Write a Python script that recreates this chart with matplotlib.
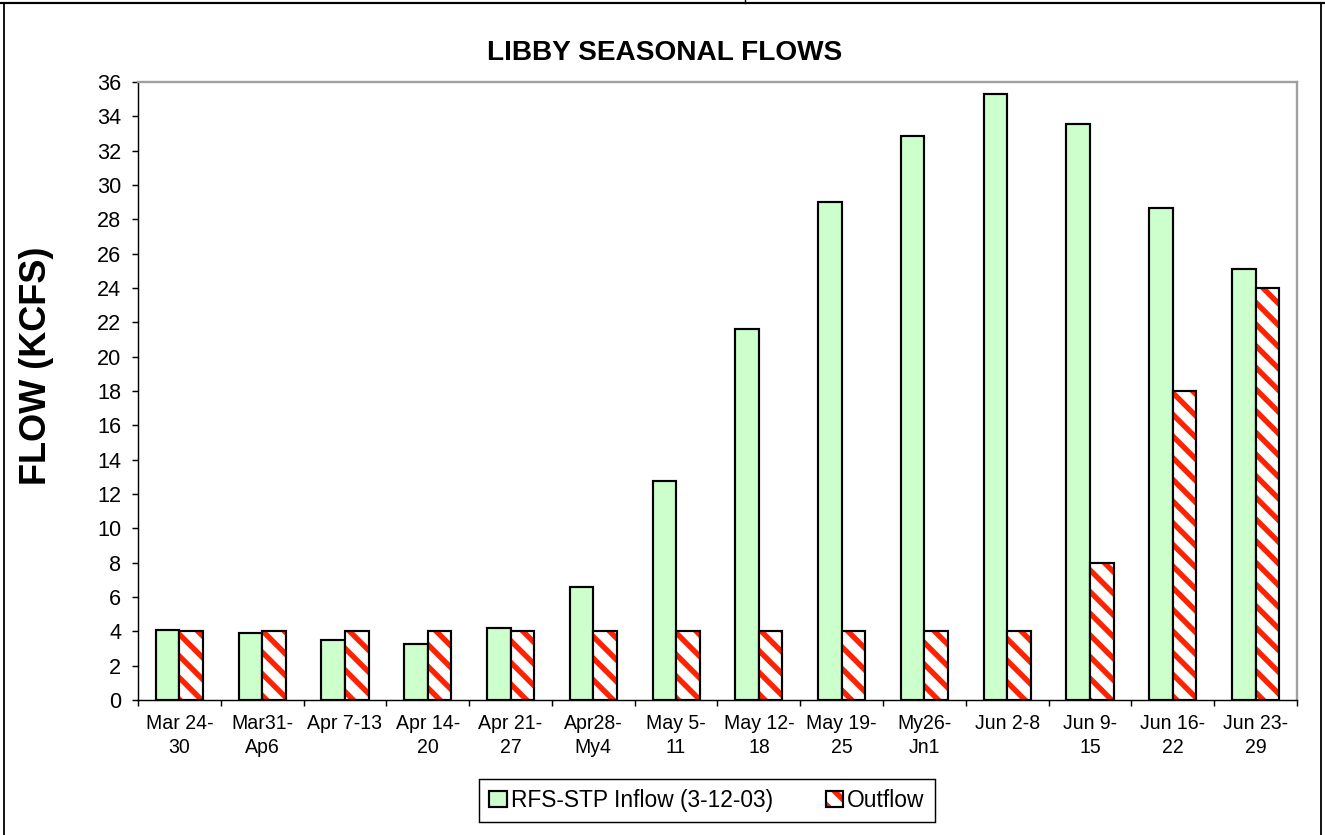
import numpy as np
import matplotlib
matplotlib.use("Agg")
import matplotlib.pyplot as plt
from matplotlib.lines import Line2D

plt.rcParams['font.family'] = ['Liberation Sans', 'DejaVu Sans']
plt.rcParams['hatch.linewidth'] = 3.0

# data
weeks = ["Mar 24-\n30", "Mar31-\nAp6", "Apr 7-13", "Apr 14-\n20", "Apr 21-\n27",
         "Apr28-\nMy4", "May 5-\n11", "May 12-\n18", "May 19-\n25", "My26-\nJn1",
         "Jun 2-8", "Jun 9-\n15", "Jun 16-\n22", "Jun 23-\n29"]
inflow = [4.1, 3.9, 3.5, 3.25, 4.2, 6.6, 12.75, 21.6, 29.0, 32.85, 35.3, 33.55, 28.65, 25.1]
outflow = [4, 4, 4, 4, 4, 4, 4, 4, 4, 4, 4, 8, 18, 24]

W, H, DPI = 1325, 835, 130
fig = plt.figure(figsize=(W / DPI, H / DPI), dpi=DPI)
ax = fig.add_axes([138 / W, 1 - 700 / H, (1297 - 138) / W, (700 - 82) / H])

x = np.arange(len(weeks))
bw = 0.285
green = '#CCFFCC'
red = '#FF2200'

b1 = ax.bar(x - bw / 2, inflow, bw, color=green, edgecolor='black', linewidth=1.2, zorder=3)
b2 = ax.bar(x + bw / 2, outflow, bw, color='white', edgecolor=red, linewidth=0,
            hatch='\\\\', zorder=3)
b3 = ax.bar(x + bw / 2, outflow, bw, fill=False, edgecolor='black', linewidth=1.2, zorder=4)

ax.set_xlim(-0.5, len(weeks) - 0.5)
ax.set_ylim(0, 36)
ax.set_yticks(np.arange(0, 37, 2))
ax.tick_params(axis='y', direction='out', length=3.3, width=0.8, labelsize=12, pad=6)

# tick marks at category boundaries, labels at centres
ax.set_xticks(np.arange(len(weeks) + 1) - 0.5)
ax.set_xticklabels([])
ax.set_xticks(x, minor=True)
ax.set_xticklabels(weeks, minor=True, fontsize=10.8, linespacing=1.3)
ax.tick_params(axis='x', which='major', direction='out', length=3.3, width=0.8)
ax.tick_params(axis='x', which='minor', length=0, pad=8)

for s in ['top', 'right']:
    ax.spines[s].set_color('#A0A0A0')
    ax.spines[s].set_linewidth(1.3)
for s in ['left', 'bottom']:
    ax.spines[s].set_color('black')
    ax.spines[s].set_linewidth(0.8)

fig.text(664.5 / W, 1 - 60 / H, "LIBBY SEASONAL FLOWS", ha='center', va='baseline',
         fontsize=15.5, fontweight='bold')
fig.text(37 / W, 1 - 366 / H, "FLOW (KCFS)", ha='center', va='center', rotation=90,
         fontsize=20, fontweight='bold')

leg = ax.legend([b1, (b2, b3)], ["RFS-STP Inflow (3-12-03)", "Outflow"], ncol=2,
                loc='center', bbox_to_anchor=(707 / W, 1 - 800.5 / H),
                bbox_transform=fig.transFigure, fontsize=12.6, fancybox=False,
                edgecolor='black', framealpha=1, handlelength=0.75, handleheight=0.75,
                handletextpad=0.2, columnspacing=2.3, borderpad=0.45)
leg.get_frame().set_linewidth(0.8)

# outer chart border
fig.add_artist(Line2D([0, 1], [1 - 3 / H, 1 - 3 / H], color='black', lw=1.2,
                      transform=fig.transFigure))
fig.add_artist(Line2D([4 / W, 4 / W], [0, 1 - 3 / H], color='black', lw=1.0,
                      transform=fig.transFigure))
fig.add_artist(Line2D([1321 / W, 1321 / W], [0, 1 - 3 / H], color='black', lw=1.0,
                      transform=fig.transFigure))
fig.add_artist(Line2D([745 / W, 745 / W], [1 - 3 / H, 1], color='black', lw=0.8,
                      transform=fig.transFigure))

fig.savefig("out.png", dpi=DPI)
